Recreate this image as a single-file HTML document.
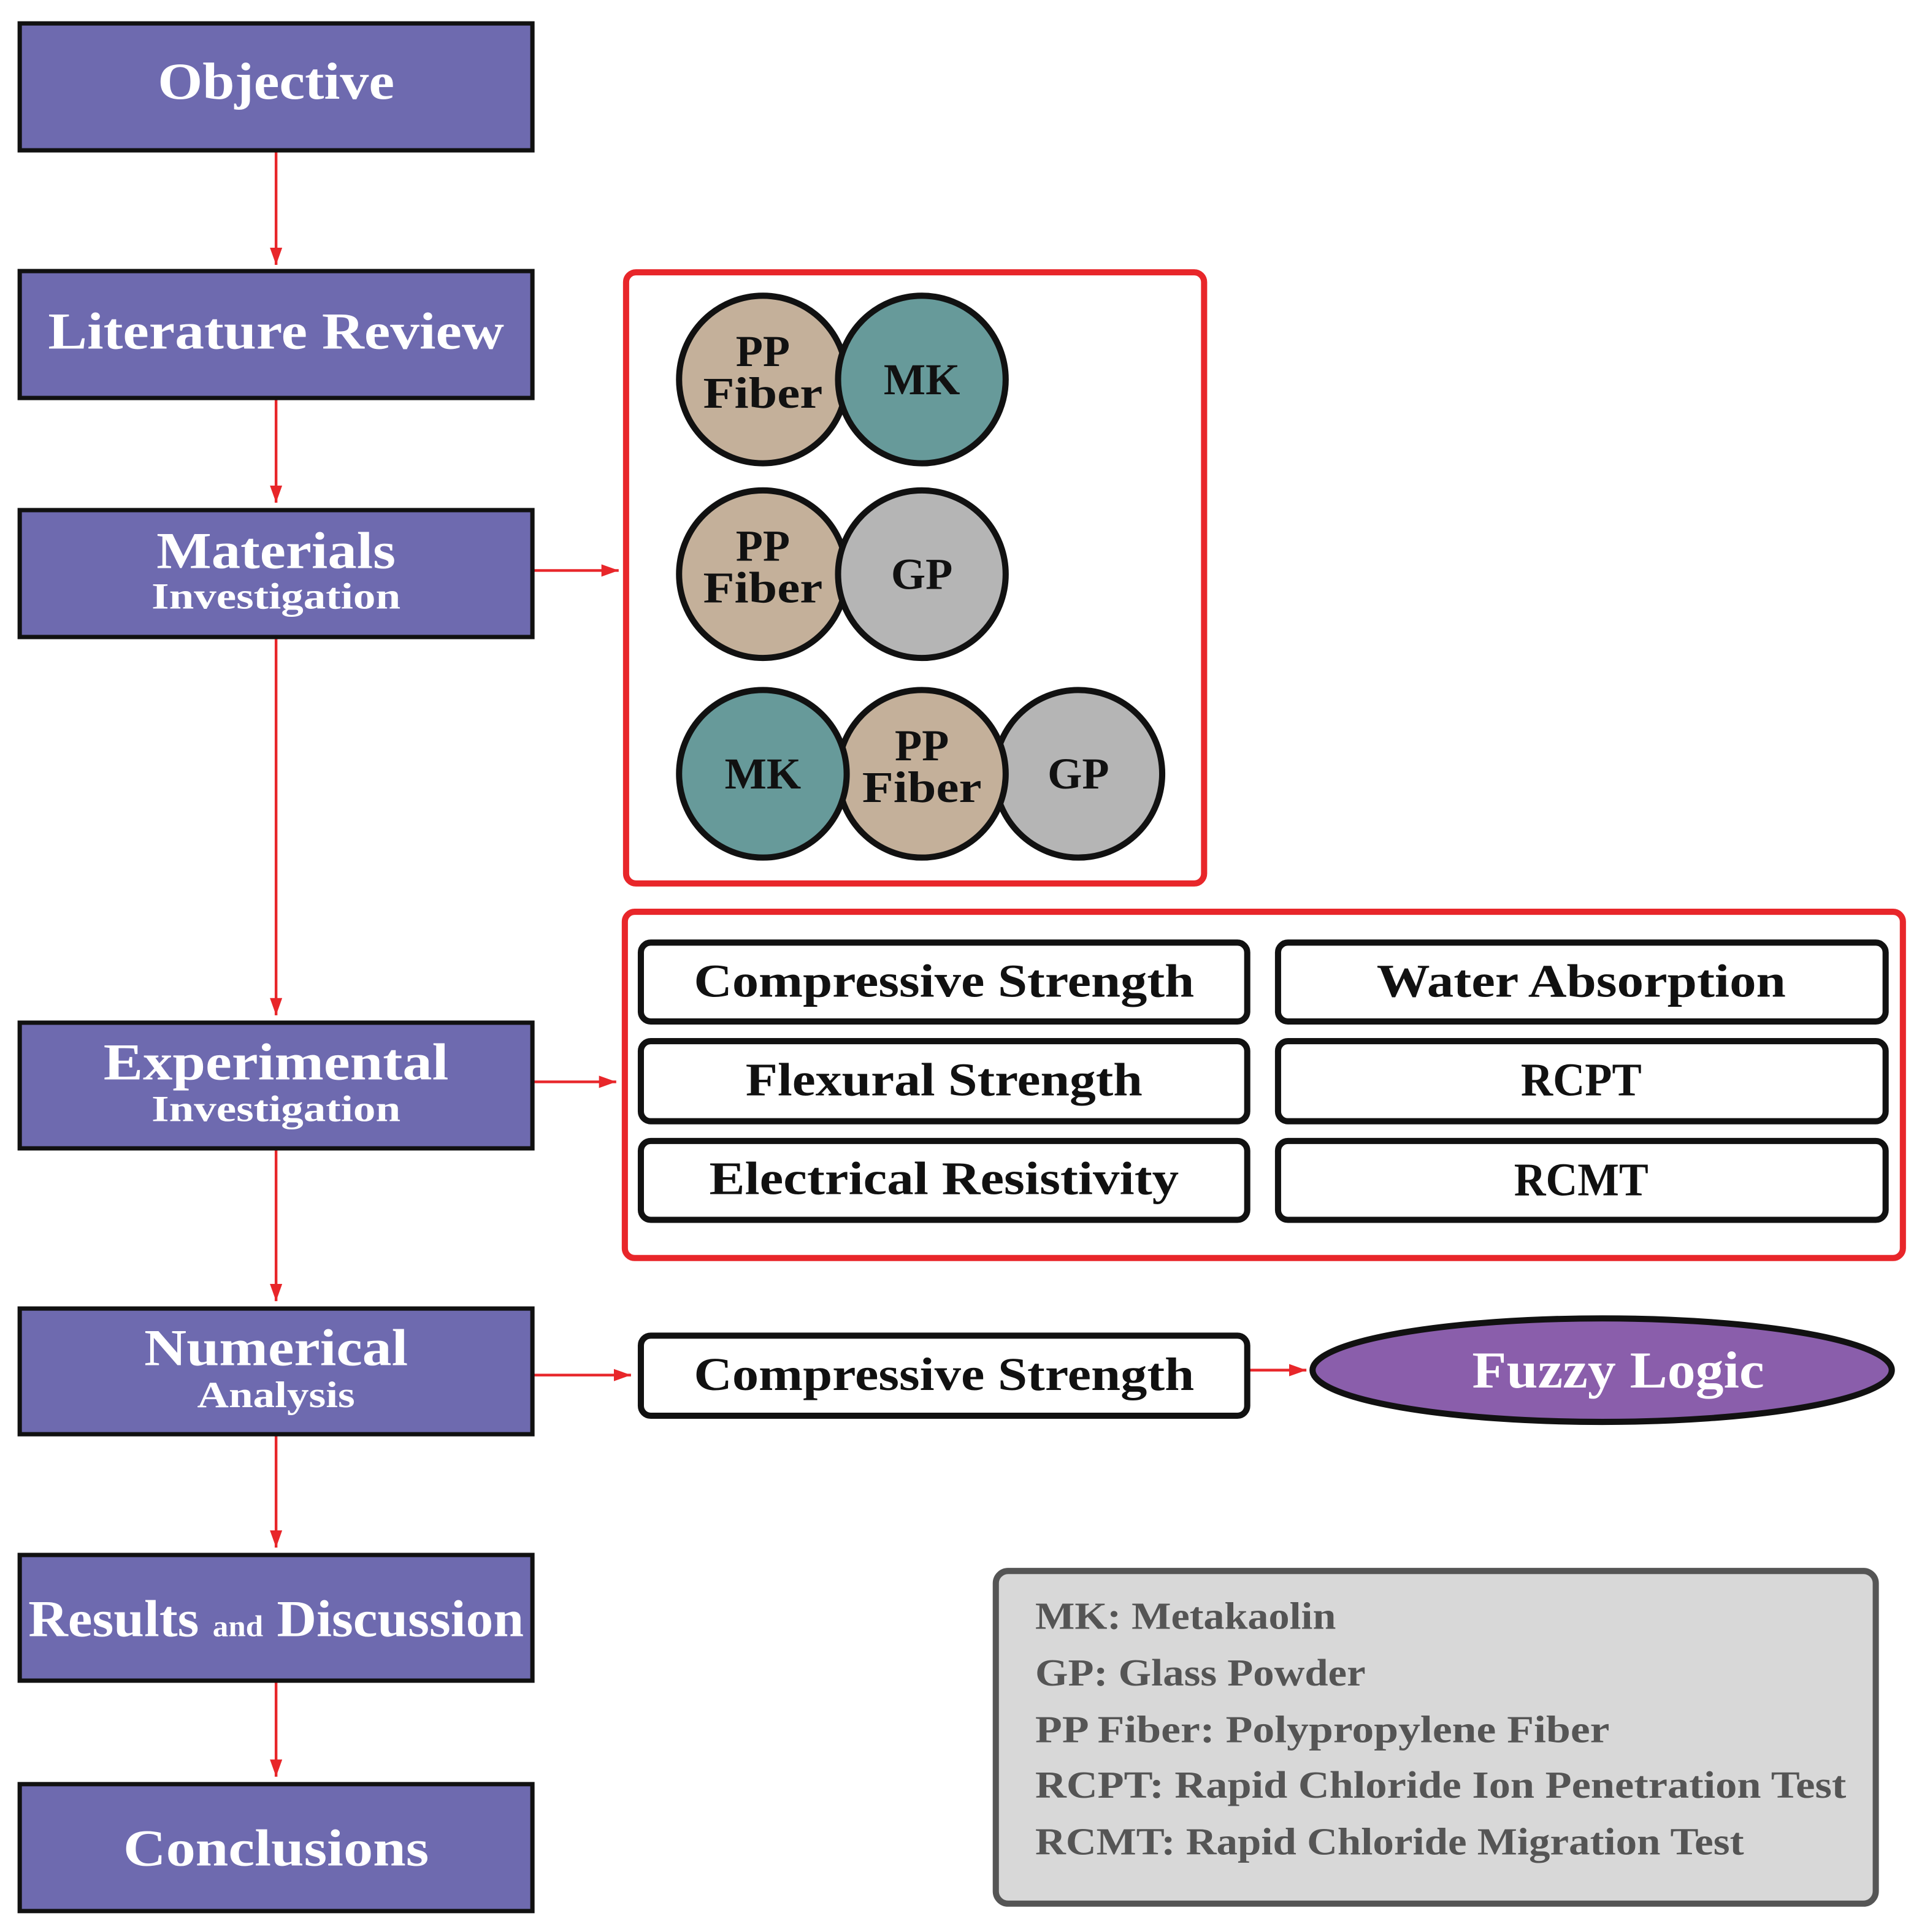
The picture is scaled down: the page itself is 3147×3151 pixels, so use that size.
<!DOCTYPE html>
<html><head><meta charset="utf-8"><style>html,body{margin:0;padding:0;background:#fff}svg{display:block}text{font-family:"Liberation Serif",serif;font-weight:bold}</style></head><body>
<svg width="3147" height="3151" viewBox="0 0 1566 1568" preserveAspectRatio="none" xmlns="http://www.w3.org/2000/svg">
<defs><marker id="a" markerWidth="14" markerHeight="10" refX="14" refY="5" orient="auto" markerUnits="userSpaceOnUse"><path d="M0,0 L14,5 L0,10 z" fill="#e8262a"/></marker></defs>
<g stroke="#e8262a" stroke-width="2.2" marker-end="url(#a)">
<line x1="224" y1="122" x2="224" y2="215"/><line x1="224" y1="323" x2="224" y2="408"/><line x1="224" y1="517" x2="224" y2="824"/><line x1="224" y1="932" x2="224" y2="1056"/><line x1="224" y1="1164" x2="224" y2="1256"/><line x1="224" y1="1364" x2="224" y2="1442"/>
<line x1="432" y1="463" x2="502" y2="463"/><line x1="432" y1="878" x2="500" y2="878"/><line x1="432" y1="1116" x2="512" y2="1116"/><line x1="1013" y1="1112" x2="1060" y2="1112"/>
</g>
<g fill="#6e6aaf" stroke="#111" stroke-width="3.5">
<rect x="16" y="19" width="416" height="103"/><rect x="16" y="220" width="416" height="103"/><rect x="16" y="414" width="416" height="103"/><rect x="16" y="830" width="416" height="102"/><rect x="16" y="1062" width="416" height="102"/><rect x="16" y="1262" width="416" height="102"/><rect x="16" y="1448" width="416" height="103"/>
</g>
<g fill="#fff" text-anchor="middle" font-size="42">
<text x="224" y="80" textLength="192" lengthAdjust="spacingAndGlyphs">Objective</text>
<text x="224" y="283" textLength="370" lengthAdjust="spacingAndGlyphs">Literature Review</text>
<text x="224" y="461" textLength="194" lengthAdjust="spacingAndGlyphs">Materials</text>
<text x="224" y="494" font-size="30" textLength="202" lengthAdjust="spacingAndGlyphs">Investigation</text>
<text x="224" y="876" textLength="280" lengthAdjust="spacingAndGlyphs">Experimental</text>
<text x="224" y="910" font-size="30" textLength="202" lengthAdjust="spacingAndGlyphs">Investigation</text>
<text x="224" y="1108" textLength="214" lengthAdjust="spacingAndGlyphs">Numerical</text>
<text x="224" y="1142" font-size="30" textLength="128" lengthAdjust="spacingAndGlyphs">Analysis</text>
<text x="224" y="1328" textLength="402" lengthAdjust="spacingAndGlyphs">Results <tspan font-size="24">and</tspan> Discussion</text>
<text x="224" y="1514" textLength="248" lengthAdjust="spacingAndGlyphs">Conclusions</text>
</g>
<rect x="508" y="221" width="469" height="496" rx="8" fill="none" stroke="#e8262a" stroke-width="5"/>
<rect x="507" y="740" width="1037" height="281" rx="8" fill="none" stroke="#e8262a" stroke-width="5"/>
<g stroke="#111" stroke-width="5">
<circle cx="619" cy="308" r="68" fill="#c4b09a"/><circle cx="748" cy="308" r="68" fill="#679a9a"/>
<circle cx="619" cy="466" r="68" fill="#c4b09a"/><circle cx="748" cy="466" r="68" fill="#b5b5b5"/>
<circle cx="875" cy="628" r="68" fill="#b5b5b5"/><circle cx="748" cy="628" r="68" fill="#c4b09a"/><circle cx="619" cy="628" r="68" fill="#679a9a"/>
</g>
<g fill="#111" text-anchor="middle" font-size="36">
<text x="619" y="297">PP</text><text x="619" y="331" textLength="97" lengthAdjust="spacingAndGlyphs">Fiber</text>
<text x="748" y="320">MK</text>
<text x="619" y="455">PP</text><text x="619" y="489" textLength="97" lengthAdjust="spacingAndGlyphs">Fiber</text>
<text x="748" y="478">GP</text>
<text x="619" y="640">MK</text>
<text x="748" y="617">PP</text><text x="748" y="651" textLength="97" lengthAdjust="spacingAndGlyphs">Fiber</text>
<text x="875" y="640">GP</text>
</g>
<g fill="#fff" stroke="#111" stroke-width="5">
<rect x="520" y="765" width="492" height="64" rx="8"/><rect x="1037" y="765" width="493" height="64" rx="8"/>
<rect x="520" y="845" width="492" height="65" rx="8"/><rect x="1037" y="845" width="493" height="65" rx="8"/>
<rect x="520" y="926" width="492" height="64" rx="8"/><rect x="1037" y="926" width="493" height="64" rx="8"/>
<rect x="520" y="1084" width="492" height="65" rx="8"/>
</g>
<g fill="#111" text-anchor="middle" font-size="38">
<text x="766" y="809" textLength="406" lengthAdjust="spacingAndGlyphs">Compressive Strength</text>
<text x="1283" y="809" textLength="332" lengthAdjust="spacingAndGlyphs">Water Absorption</text>
<text x="766" y="889" textLength="322" lengthAdjust="spacingAndGlyphs">Flexural Strength</text>
<text x="1283" y="889" textLength="98" lengthAdjust="spacingAndGlyphs">RCPT</text>
<text x="766" y="969" textLength="381" lengthAdjust="spacingAndGlyphs">Electrical Resistivity</text>
<text x="1283" y="970" textLength="109" lengthAdjust="spacingAndGlyphs">RCMT</text>
<text x="766" y="1128" textLength="406" lengthAdjust="spacingAndGlyphs">Compressive Strength</text>
</g>
<ellipse cx="1300" cy="1112" rx="235" ry="42" fill="#8a5eab" stroke="#111" stroke-width="5"/>
<text x="1313" y="1126" fill="#fff" text-anchor="middle" font-size="42" textLength="237" lengthAdjust="spacingAndGlyphs">Fuzzy Logic</text>
<rect x="808" y="1275" width="714" height="270" rx="10" fill="#d8d8d8" stroke="#555" stroke-width="5"/>
<g fill="#555" font-size="31">
<text x="840" y="1322" textLength="244" lengthAdjust="spacingAndGlyphs">MK: Metakaolin</text>
<text x="840" y="1368" textLength="268" lengthAdjust="spacingAndGlyphs">GP: Glass Powder</text>
<text x="840" y="1414" textLength="466" lengthAdjust="spacingAndGlyphs">PP Fiber: Polypropylene Fiber</text>
<text x="840" y="1459" textLength="658" lengthAdjust="spacingAndGlyphs">RCPT: Rapid Chloride Ion Penetration Test</text>
<text x="840" y="1505" textLength="575" lengthAdjust="spacingAndGlyphs">RCMT: Rapid Chloride Migration Test</text>
</g>
</svg>
</body></html>
